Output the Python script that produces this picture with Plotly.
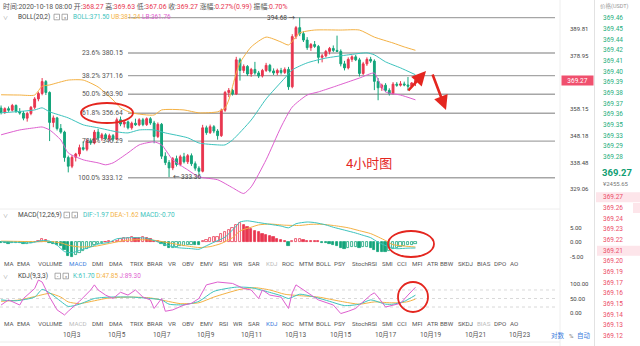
import math
import pandas as pd
import plotly.graph_objects as go

W, H = 640, 346

# ---------------- 4h candles (USDT) ----------------
candle_start = "2020-09-29 20:00"
opens = [358.6, 356.9, 358.4, 357.8, 359.6, 357.3, 356.7, 354.8, 356.6, 358.9,
         362.1, 364.2, 368.8, 364.6, 353.2, 354.9, 350.9, 349.6, 340.3, 337.2,
         340.4, 341.6, 343.9, 343.3, 346.4, 345.6, 349.6, 347.4, 348.6, 347.2,
         348.3, 347.0, 354.2, 352.6, 353.4, 351.2, 352.9, 352.3, 354.2, 352.4,
         354.6, 353.0, 348.0, 352.5, 340.8, 338.5, 336.6, 339.9, 337.8, 340.6,
         338.8, 341.0, 338.1, 336.5, 335.4, 351.2, 349.4, 351.6, 350.0, 348.3,
         357.8, 364.6, 365.4, 364.0, 377.4, 373.2, 374.8, 371.8, 373.6, 372.2,
         371.0, 373.2, 375.2, 373.0, 372.2, 373.2, 372.4, 373.6, 366.8, 386.8,
         390.5, 388.0, 385.4, 382.3, 383.6, 382.8, 378.4, 379.0, 380.8, 382.0,
         381.2, 380.8, 375.8, 374.2, 377.6, 378.6, 377.4, 372.0, 375.8, 377.6,
         376.9, 368.9, 366.4, 367.4, 365.4, 364.2, 367.8, 367.4, 367.9, 367.5,
         367.0, 368.27]
highs = [359.6, 358.9, 359.2, 360.2, 360.0, 358.6, 357.5, 357.2, 359.4, 362.8,
         364.9, 370.2, 369.4, 365.0, 355.8, 355.3, 352.6, 350.1, 341.0, 341.2,
         342.0, 345.0, 346.2, 347.1, 347.3, 350.4, 350.8, 349.3, 349.2, 349.0,
         348.9, 355.0, 355.4, 354.0, 353.9, 353.5, 354.6, 354.8, 354.9, 355.1,
         355.2, 353.8, 353.2, 353.0, 342.2, 339.4, 340.5, 341.0, 341.3, 342.0,
         341.6, 341.8, 338.9, 337.2, 352.3, 352.0, 352.4, 352.2, 350.7, 358.4,
         365.2, 366.3, 366.0, 378.6, 378.2, 375.6, 375.3, 374.2, 376.6, 373.0,
         373.8, 376.2, 375.8, 374.0, 373.9, 374.2, 374.4, 374.6, 387.8, 391.2,
         394.68, 389.0, 386.6, 384.2, 385.0, 383.4, 379.8, 381.4, 382.6, 383.2,
         387.2, 381.6, 377.0, 378.4, 379.2, 379.4, 378.2, 376.6, 378.4, 378.6,
         377.6, 370.2, 368.0, 368.2, 366.2, 368.6, 368.6, 369.0, 368.8, 370.6,
         368.6, 369.63]
lows = [356.2, 356.4, 357.2, 357.3, 356.8, 356.1, 354.0, 353.5, 355.9, 358.2,
        361.2, 363.5, 363.6, 346.3, 351.4, 350.2, 349.0, 338.8, 335.0, 336.5,
        338.9, 340.7, 342.8, 342.6, 344.9, 345.1, 346.6, 346.4, 346.6, 346.3,
        346.2, 346.6, 351.8, 351.3, 350.6, 350.5, 351.9, 351.8, 351.8, 351.9,
        352.3, 345.5, 347.4, 339.8, 337.6, 333.36, 335.8, 337.1, 337.2, 338.2,
        338.0, 337.3, 335.6, 334.2, 335.0, 348.6, 348.9, 349.2, 346.8, 347.8,
        357.2, 362.8, 363.4, 363.6, 369.2, 372.2, 371.0, 370.7, 371.5, 370.2,
        370.4, 372.6, 372.4, 371.4, 371.3, 371.6, 371.8, 365.6, 366.2, 385.8,
        387.0, 384.6, 381.4, 381.0, 382.2, 376.0, 376.4, 378.4, 379.6, 380.5,
        380.6, 374.8, 373.2, 373.6, 376.6, 376.9, 370.8, 371.4, 375.0, 376.2,
        365.5, 361.6, 365.2, 364.8, 363.4, 363.8, 366.8, 366.9, 367.0, 365.3,
        366.8, 367.06]
closes = [356.9, 358.4, 357.8, 359.6, 357.3, 356.7, 354.8, 356.6, 358.9, 362.1,
          364.2, 368.8, 364.6, 353.2, 354.9, 350.9, 349.6, 340.3, 337.2, 340.4,
          341.6, 343.9, 343.3, 346.4, 345.6, 349.6, 347.4, 348.6, 347.2, 348.3,
          347.0, 354.2, 352.6, 353.4, 351.2, 352.9, 352.3, 354.2, 352.4, 354.6,
          353.0, 348.0, 352.5, 340.8, 338.5, 336.6, 339.9, 337.8, 340.6, 338.8,
          341.0, 338.1, 336.5, 335.4, 351.2, 349.4, 351.6, 350.0, 348.3, 357.8,
          364.6, 365.4, 364.0, 377.4, 373.2, 374.8, 371.8, 373.6, 372.2, 371.0,
          373.2, 375.2, 373.0, 372.2, 373.2, 372.4, 373.6, 366.8, 386.8, 390.5,
          388.0, 385.4, 382.3, 383.6, 382.8, 378.4, 379.0, 380.8, 382.0, 381.2,
          380.8, 375.8, 374.2, 377.6, 378.6, 377.4, 372.0, 375.8, 377.6, 376.9,
          368.9, 366.4, 367.4, 365.4, 364.2, 367.8, 367.4, 367.9, 367.5, 367.0,
          368.28, 369.27]

# BOLL(20,2) bands, sampled at candle indices
boll_up_idx = [0, 5, 9, 11, 13, 18, 22, 26, 30, 32, 35, 41, 43, 49, 53, 58, 60, 61, 63, 64,
               67, 71, 75, 77, 80, 84, 91, 96, 100, 105, 108, 111]
boll_up = [363.7, 363.6, 363.6, 367.0, 367.5, 369.4, 369.4, 366.7, 361.7, 358.7,
           356.8, 356.0, 357.9, 357.9, 356.8, 357.2, 358.7, 361.7, 372.2, 376.2,
           382.6, 386.6, 384.6, 383.4, 388.3, 389.5, 389.5, 389.5, 386.6, 384.2,
           382.6, 381.24]
boll_mid_idx = [0, 9, 11, 13, 18, 22, 26, 31, 34, 37, 41, 44, 50, 53, 58, 60, 62, 67, 71, 76,
                78, 82, 87, 93, 98, 100, 103, 107, 111]
boll_mid = [356.8, 357.9, 358.7, 357.2, 354.9, 352.3, 351.2, 349.7, 349.3, 350.4,
            350.4, 349.3, 347.5, 345.6, 344.9, 344.9, 346.7, 354.1, 362.1, 370.2,
            373.4, 376.2, 378.1, 379.4, 380.2, 379.4, 376.6, 374.2, 371.50]
boll_lo_idx = [0, 5, 9, 11, 13, 16, 18, 22, 26, 28, 30, 34, 37, 41, 43, 46, 50, 53, 58, 62,
               65, 67, 71, 75, 78, 82, 85, 89, 93, 96, 100, 101, 103, 107, 111]
boll_lo = [348.6, 350.4, 351.2, 351.5, 350.4, 346.7, 342.0, 339.5, 338.4, 337.7,
           338.4, 342.0, 344.9, 346.0, 344.9, 339.5, 335.9, 333.4, 332.4, 329.6,
           327.6, 329.9, 339.5, 351.5, 359.0, 363.6, 364.8, 366.7, 368.7, 370.2,
           372.2, 369.5, 364.8, 363.6, 361.76]

# MACD(12,26,9): histogram per candle, DIF / DEA sampled
macd_hist = [-0.3, -0.4, -0.5, -0.4, -0.3, -0.4, -0.6, -0.5, -0.3, 0.2,
             0.6, 1.1, 0.8, -0.2, -0.5, -0.9, -1.4, -2.8, -4.6, -5.2,
             -4.5, -3.8, -3.0, -2.3, -1.7, -1.1, -0.7, -0.4, 0.2, 0.3,
             0.2, 0.5, 1.2, 1.5, 1.6, 1.8, 1.6, 1.5, 1.7, 1.5,
             1.1, 0.5, 0.3, -0.6, -1.3, -2.0, -1.8, -1.6, -1.4, -1.3,
             -1.1, -0.8, -1.0, -1.1, 0.4, 0.9, 1.4, 1.8, 2.0, 2.8,
             3.6, 4.3, 4.8, 6.0, 6.6, 6.0, 5.3, 4.7, 4.0, 3.4,
             3.0, 2.6, 2.2, 1.7, 1.3, 0.9, 0.5, -1.2, 0.6, 1.0,
             1.2, 0.9, 0.6, 0.5, 0.4, 0.3, -0.2, -0.4, -0.5, -0.8,
             -1.2, -1.8, -2.2, -2.0, -1.7, -1.6, -1.8, -1.6, -1.5, -1.8,
             -2.6, -3.2, -3.3, -3.5, -3.0, -2.4, -1.9, -1.5, -1.2, -1.0,
             -0.85, -0.70]
dif_idx = [0, 4, 8, 11, 13, 15, 17, 19, 21, 24, 26, 29, 31, 35, 39, 41, 44, 47, 51, 53,
           55, 57, 60, 63, 64, 66, 69, 72, 75, 77, 79, 82, 84, 87, 89, 92, 95, 97, 99, 101,
           104, 106, 109, 111]
dif_val = [0.2, 0.0, -0.2, 0.6, 0.4, -1.0, -3.2, -3.6, -2.8, -1.6,
           -0.6, 0.0, 1.2, 1.6, 1.4, 0.6, -0.8, -1.8, -2.2, -2.4,
           -1.2, 0.0, 1.8, 5.6, 7.0, 7.4, 6.8, 6.2, 5.6, 5.0,
           6.4, 7.0, 6.8, 6.0, 5.2, 4.2, 3.2, 2.4, 1.6, 0.0,
           -1.6, -2.2, -2.0, -1.97]
dea_idx = [0, 5, 10, 13, 16, 18, 21, 25, 29, 33, 37, 41, 45, 49, 53, 56, 59, 62, 64, 67,
           69, 72, 76, 80, 83, 86, 89, 93, 96, 99, 103, 105, 108, 111]
dea_val = [0.4, 0.3, 0.2, 0.3, -0.2, -1.0, -1.6, -1.4, -0.4, 0.6,
           0.9, 0.7, -0.2, -1.1, -1.8, -1.5, -0.4, 1.6, 3.9, 5.2,
           6.0, 6.3, 5.9, 5.8, 6.2, 6.2, 5.8, 5.0, 4.0, 3.0,
           0.6, -0.8, -1.3, -1.62]

# KDJ(9,3,3), sampled
k_idx = [0, 4, 9, 11, 13, 16, 18, 21, 25, 29, 35, 40, 43, 45, 49, 53, 57, 63, 67, 71,
         75, 77, 80, 84, 88, 92, 96, 99, 103, 105, 108, 111]
k_val = [45, 42, 55, 82, 70, 40, 22, 30, 50, 55, 55, 50, 45, 30, 28, 40, 75, 90, 88, 75,
         60, 50, 65, 55, 40, 25, 30, 45, 30, 30, 40, 61.70]
d_idx = [0, 5, 10, 13, 16, 18, 21, 25, 29, 35, 40, 44, 48, 53, 57, 64, 68, 72, 76, 80,
         85, 91, 96, 100, 104, 107, 109, 111]
d_val = [40, 45, 60, 68, 55, 38, 32, 42, 52, 55, 52, 42, 32, 35, 55, 82, 88, 80, 65, 60,
         55, 40, 30, 38, 35, 35, 39, 47.85]
j_idx = [0, 2, 5, 6, 9, 10, 11, 13, 15, 17, 18, 21, 24, 25, 26, 28, 30, 32, 34, 36,
         38, 40, 41, 43, 44, 46, 49, 51, 53, 55, 58, 62, 65, 67, 69, 70, 72, 75, 77, 78,
         79, 81, 83, 85, 89, 91, 93, 95, 96, 99, 100, 101, 103, 105, 107, 109, 111]
j_val = [27, 45, 27, 50, 85, 115, 108, 55, 10, -8, 5, 40, 80, 98, 80, 62, 50, 72, 62, 80,
         55, 45, 15, 50, 5, 10, 27, 33, 50, 98, 108, 103, 85, 80, 50, 80, 62, 55, 15, 70,
         98, 80, 62, 45, 27, -3, 5, 15, 27, 62, 70, 55, 20, 27, 33, 62, 89.30]

# Fibonacci retracement levels
fib_pcts = ["23.6%", "38.2%", "50.0%", "61.8%", "78.6%", "100.0%"]
fib_levels = [380.15, 371.16, 363.90, 356.64, 346.29, 333.12]

# axis ticks
price_ticks = [389.81, 378.95, 358.15, 348.18, 338.48, 329.06]
macd_ticks = [5, 0, -5]
kdj_ticks = [100, 50, 0]
kdj_guides = [80, 50, 20]
date_ticks = ["2020-10-03", "2020-10-05", "2020-10-07", "2020-10-09", "2020-10-11",
              "2020-10-13", "2020-10-15", "2020-10-17", "2020-10-19", "2020-10-21",
              "2020-10-23"]

# order book
ask_prices = [369.46, 369.45, 369.44, 369.42, 369.41, 369.40, 369.39, 369.38, 369.37,
              369.36, 369.35, 369.33, 369.29, 369.28]
bid_prices = [369.27, 369.26, 369.24, 369.23, 369.22, 369.21, 369.20, 369.19, 369.17,
              369.16, 369.15, 369.14, 369.13, 369.12]
cny_price = 2455.65

indicator_tabs = ["MA", "EMA", "VOLUME", "MACD", "DMI", "DMA", "TRIX", "BRAR", "VR", "OBV",
                  "EMV", "RSI", "WR", "SAR", "KDJ", "ROC", "MTM", "BOLL", "PSY", "StochRSI",
                  "SMI", "CCI", "MFI", "ATR", "BBW", "SKDJ", "BIAS", "DPO", "AO"]

# ---------------- styling ----------------
UP, DN = "#e8364f", "#14a57b"
TEAL, ORANGE, MAGENTA = "#3cc3bd", "#f4b143", "#de5fcf"
MARK = "#e4261f"
TXT, TXT_LIGHT, BLUE = "#555555", "#bbbbbb", "#3b7ddd"
FONT = "Roboto, Noto Sans CJK SC, sans-serif"

# pixel geometry
PLOT_R = 560
FIRST_X, CANDLE_PX = 1.07, 3.733
P_REF, P_REF_Y, P_DEC = 389.81, 29.3, 2174.4
MACD_ZERO_Y, MACD_PX = 242.3, 2.9
KDJ_ZERO_Y, KDJ_PX = 312.7, 0.284

times = pd.date_range(candle_start, periods=len(closes), freq="4h")
step = pd.Timedelta(hours=4)


def px(x):
    return x / W


def py(y):
    return 1 - y / H


def t_at(x):
    return times[0] + step * ((x - FIRST_X) / CANDLE_PX)


def log_at(y):
    return math.log10(P_REF) - (y - P_REF_Y) / P_DEC


def pick(idx):
    return [times[i] for i in idx]


fig = go.Figure()

# ---- price pane ----
fig.add_trace(go.Candlestick(
    x=times, open=opens, high=highs, low=lows, close=closes,
    increasing=dict(line=dict(color=UP, width=1), fillcolor=UP),
    decreasing=dict(line=dict(color=DN, width=1), fillcolor=DN),
    whiskerwidth=0, xaxis="x", yaxis="y", hoverinfo="skip"))
for idx, vals, col in [(boll_up_idx, boll_up, ORANGE), (boll_mid_idx, boll_mid, TEAL),
                       (boll_lo_idx, boll_lo, MAGENTA)]:
    fig.add_trace(go.Scatter(x=pick(idx), y=vals, mode="lines", xaxis="x", yaxis="y",
                             line=dict(color=col, width=1, shape="spline", smoothing=0.6),
                             hoverinfo="skip"))

# ---- MACD pane ----
bar_fill, bar_line = [], []
for i, h in enumerate(macd_hist):
    col = UP if h >= 0 else DN
    rising = i > 0 and h > macd_hist[i - 1]
    bar_fill.append("white" if rising else col)
    bar_line.append(col)
fig.add_trace(go.Bar(x=times, y=macd_hist, xaxis="x2", yaxis="y2",
                     width=0.6 * step.total_seconds() * 1000,
                     marker=dict(color=bar_fill, line=dict(color=bar_line, width=0.8)),
                     hoverinfo="skip"))
fig.add_trace(go.Scatter(x=pick(dea_idx), y=dea_val, mode="lines", xaxis="x2", yaxis="y2",
                         line=dict(color=ORANGE, width=1, shape="spline", smoothing=0.6)))
fig.add_trace(go.Scatter(x=pick(dif_idx), y=dif_val, mode="lines", xaxis="x2", yaxis="y2",
                         line=dict(color=TEAL, width=1, shape="spline", smoothing=0.6)))

# ---- KDJ pane ----
fig.add_trace(go.Scatter(x=pick(d_idx), y=d_val, mode="lines", xaxis="x3", yaxis="y3",
                         line=dict(color=ORANGE, width=1, shape="spline", smoothing=0.6)))
fig.add_trace(go.Scatter(x=pick(k_idx), y=k_val, mode="lines", xaxis="x3", yaxis="y3",
                         line=dict(color=TEAL, width=1, shape="spline", smoothing=0.6)))
fig.add_trace(go.Scatter(x=pick(j_idx), y=j_val, mode="lines", xaxis="x3", yaxis="y3",
                         line=dict(color=MAGENTA, width=1)))

shapes = []
annotations = []


def note(x, y, text, size=6.5, color=TXT, xanchor="center", **kw):
    annotations.append(dict(x=px(x), y=py(y), xref="paper", yref="paper", text=text,
                            showarrow=False, xanchor=xanchor, yanchor="middle",
                            font=dict(size=size, color=color, family=FONT), **kw))


# Fibonacci lines and labels
for pct, lv in zip(fib_pcts + ["0.0%"], fib_levels + [max(highs)]):
    shapes.append(dict(type="line", xref="paper", yref="y", x0=px(128), x1=px(555),
                       y0=lv, y1=lv, line=dict(color="#a6a6a6", width=1.4), layer="below"))
for pct, lv in zip(fib_pcts, fib_levels):
    annotations.append(dict(x=px(125), y=math.log10(lv), xref="paper", yref="y",
                            text=f"{pct} {lv:.2f}", showarrow=False, xanchor="right",
                            yanchor="middle", font=dict(size=6.8, color=TXT, family=FONT)))

# extreme markers
hi_i = highs.index(max(highs))
lo_i = lows.index(min(lows))
annotations.append(dict(x=times[hi_i], y=math.log10(highs[hi_i]), xref="x", yref="y",
                        text=f"{highs[hi_i]:.2f} →", showarrow=False, xanchor="right",
                        xshift=-2, yanchor="middle", font=dict(size=6.5, color="#444", family=FONT)))
annotations.append(dict(x=times[lo_i], y=math.log10(lows[lo_i]), xref="x", yref="y",
                        text=f"← {lows[lo_i]:.2f}", showarrow=False, xanchor="left",
                        xshift=2, yanchor="middle", font=dict(size=6.5, color="#444", family=FONT)))

# last price tag on the price scale
annotations.append(dict(x=px(PLOT_R + 0.5), y=math.log10(closes[-1]), xref="paper", yref="y",
                        text=f"{closes[-1]:.2f}", showarrow=False, xanchor="left",
                        yanchor="middle", bgcolor="#f0506e", width=31, height=9, borderpad=0,
                        font=dict(size=6.5, color="white", family=FONT)))

# red hand-drawn marks
for x0, y0, x1, y1 in [(81, 103, 133, 123), (388, 231, 434, 257), (398, 282, 428, 312)]:
    shapes.append(dict(type="circle", xref="paper", yref="paper", x0=px(x0), x1=px(x1),
                       y0=py(y1), y1=py(y0), line=dict(color=MARK, width=1.8)))
for hx, hy, ax, ay in [(426, 71, -19, 21), (446, 110, -14, -37)]:
    annotations.append(dict(x=px(hx), y=py(hy), xref="paper", yref="paper", text="",
                            showarrow=True, ax=ax, ay=ay, arrowhead=2, arrowsize=1.1,
                            arrowwidth=2.6, arrowcolor=MARK))
note(369, 163, "4小时图", size=13, color=MARK)

# KDJ guide lines
for g in kdj_guides:
    shapes.append(dict(type="line", xref="paper", yref="y3", x0=0, x1=px(555), y0=g, y1=g,
                       line=dict(color="#cfcfcf", width=0.8, dash="3px,3px"), layer="below"))

# separators
shapes.append(dict(type="line", xref="paper", yref="paper", x0=0, x1=px(PLOT_R),
                   y0=py(209), y1=py(209), line=dict(color="#eeeeee", width=1)))
shapes.append(dict(type="line", xref="paper", yref="paper", x0=px(PLOT_R), x1=px(PLOT_R),
                   y0=0, y1=1, line=dict(color="#eeeeee", width=1)))
shapes.append(dict(type="line", xref="paper", yref="paper", x0=px(594.5), x1=px(594.5),
                   y0=0, y1=1, line=dict(color="#e2e2e2", width=1)))
shapes.append(dict(type="line", xref="paper", yref="paper", x0=0, x1=px(PLOT_R),
                   y0=py(342), y1=py(342), line=dict(color="#ececec", width=1)))

# header rows
prev_close = closes[-2]
chg = closes[-1] - prev_close
amp = (highs[-1] - lows[-1]) / prev_close * 100


def kv(label, value, col=UP):
    return f'<span style="color:{TXT}">{label}</span><span style="color:{col}">{value}</span>'


header = " ".join([
    f'<span style="color:{TXT}">时间:{times[-1]:%Y-%m-%d %H:%M}</span>',
    kv("开:", f"{opens[-1]:.2f}"), kv("高:", f"{highs[-1]:.2f}"),
    kv("低:", f"{lows[-1]:.2f}"), kv("收:", f"{closes[-1]:.2f}"),
    kv("涨幅:", f"{chg / prev_close * 100:.2f}%({chg:.2f})"), kv("振幅:", f"{amp:.2f}%")])
note(1, 7, header, size=6.9, xanchor="left")


def pane_header(y, name, values):
    note(5.5, y, "∨", size=5, color="#999")
    note(16, y, name, size=6.5, color="#444", xanchor="left")
    return [f'<span style="color:{c}">{t}</span>' for t, c in values]


def icon_box(x, y, glyph):
    shapes.append(dict(type="rect", xref="paper", yref="paper", x0=px(x), x1=px(x + 5.5),
                       y0=py(y + 2.8), y1=py(y - 2.8), line=dict(color="#888", width=0.7)))
    note(x + 2.75, y, glyph, size=4, color="#777")


boll_vals = [(f"BOLL:{boll_mid[-1]:.2f}", TEAL), (f"UB:{boll_up[-1]:.2f}", ORANGE),
             (f"LB:{boll_lo[-1]:.2f}", MAGENTA)]
parts = pane_header(17, "BOLL(20,2)", boll_vals)
icon_box(54, 17, "•")
icon_box(62, 17, "×")
note(71, 17, " ".join(parts), size=6.4, xanchor="left")

macd_vals = [(f"DIF:{dif_val[-1]:.2f}", TEAL), (f"DEA:{dea_val[-1]:.2f}", ORANGE),
             (f"MACD:{macd_hist[-1]:.2f}", TEAL)]
parts = pane_header(215, "MACD(12,26,9)", macd_vals)
icon_box(64, 215, "•")
icon_box(72, 215, "×")
note(81, 215, " ".join(parts), size=6.5, xanchor="left")

kdj_vals = [(f"K:{k_val[-1]:.2f}", TEAL), (f"D:{d_val[-1]:.2f}", ORANGE),
            (f"J:{j_val[-1]:.2f}", MAGENTA)]
parts = pane_header(276, "KDJ(9,3,3)", kdj_vals)
icon_box(55, 276, "•")
icon_box(63, 276, "×")
note(71, 276, " ".join(parts), size=6.4, xanchor="left")

# indicator tab rows
tab_cx = [9, 23, 50, 78, 97, 116, 136, 155, 172, 188, 206, 223, 237, 254, 271, 288, 306,
          323, 340, 364, 387, 402, 417, 432, 447, 465, 484, 500, 514]
for name, cx in zip(indicator_tabs, tab_cx):
    c1 = BLUE if name == "MACD" else (TXT_LIGHT if name == "KDJ" else TXT)
    c2 = BLUE if name == "KDJ" else (TXT_LIGHT if name in ("MACD", "BIAS") else TXT)
    note(cx, 264, name, size=6.2, color=c1)
    note(cx, 324, name, size=6.2, color=c2)

# date labels
for d in date_ticks:
    ts = pd.Timestamp(d)
    annotations.append(dict(x=ts, y=py(335), xref="x", yref="paper", text=f"{ts.month}月{ts.day}",
                            showarrow=False, xanchor="center", yanchor="middle",
                            font=dict(size=6.5, color=TXT, family=FONT)))

note(558, 335, "对数", size=6.5, color=BLUE)
note(571, 335, "%", size=6, color="#777")
note(584, 335, "自动", size=6.5, color=BLUE)

# order book column
note(598, 6, "价格(USDT)", size=5.5, color="#999", xanchor="left")
for k, p in enumerate(ask_prices):
    note(601, 18.3 + 10.68 * k, f"{p:.2f}", size=6.5, color="#1fae7d", xanchor="left")
note(600, 172.5, f"<b>{closes[-1]:.2f}</b>", size=9.5, color="#109e72", xanchor="left")
note(601, 183, f"¥{cny_price:.2f}", size=6, color="#777", xanchor="left")
for k, depth in [(0, 44), (1, 7), (5, 43)]:
    yc = 197.3 + 10.68 * k
    shapes.append(dict(type="rect", xref="paper", yref="paper", x0=px(640 - depth), x1=1,
                       y0=py(yc + 5), y1=py(yc - 5), fillcolor="#fde5ea", line=dict(width=0),
                       layer="below"))
for k, p in enumerate(bid_prices):
    note(601, 197.3 + 10.68 * k, f"{p:.2f}", size=6.5, color="#ec4d68", xanchor="left")

axis_common = dict(showgrid=False, zeroline=False, showline=False, ticks="",
                   tickfont=dict(size=6, color="#444", family=FONT),
                   anchor="free", position=px(PLOT_R), side="right", ticklabelstandoff=9)

fig.update_layout(
    width=W, height=H, margin=dict(l=0, r=0, t=0, b=0),
    paper_bgcolor="white", plot_bgcolor="white", showlegend=False, hovermode=False,
    xaxis=dict(domain=[0, px(PLOT_R)], range=[t_at(0), t_at(PLOT_R)], visible=False,
               anchor="y", rangeslider=dict(visible=False)),
    xaxis2=dict(domain=[0, px(PLOT_R)], matches="x", visible=False, anchor="y2"),
    xaxis3=dict(domain=[0, px(PLOT_R)], matches="x", visible=False, anchor="y3"),
    yaxis=dict(type="log", domain=[py(197), py(0)], range=[log_at(197), log_at(0)],
               tickvals=price_ticks, ticktext=[f"{v:.2f}" for v in price_ticks], **axis_common),
    yaxis2=dict(domain=[py(262), py(206)],
                range=[-(262 - MACD_ZERO_Y) / MACD_PX, (MACD_ZERO_Y - 206) / MACD_PX],
                tickvals=macd_ticks, ticktext=[f"{v:.2f}" for v in macd_ticks], **axis_common),
    yaxis3=dict(domain=[py(318), py(278)],
                range=[-(318 - KDJ_ZERO_Y) / KDJ_PX, (KDJ_ZERO_Y - 278) / KDJ_PX],
                tickvals=kdj_ticks, ticktext=[f"{v:.2f}" for v in kdj_ticks], **axis_common),
    shapes=shapes, annotations=annotations, bargap=0,
)

fig.write_html("out.html")
